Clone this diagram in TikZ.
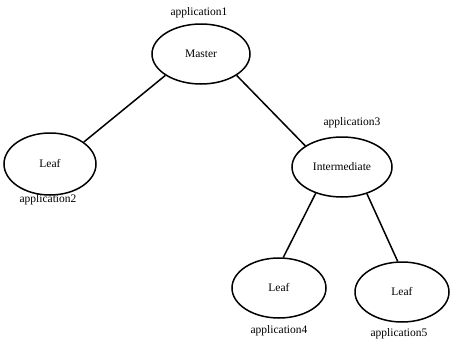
\documentclass[tikz,border=0pt]{standalone}
\usepackage{fontspec}
\setmainfont{Liberation Serif}
\usetikzlibrary{shapes.geometric}
\begin{document}
\begin{tikzpicture}[x=1pt,y=-1pt,
  app/.style={draw,ellipse,line width=1.5pt,inner sep=0pt,font=\fontsize{11.5}{13}\selectfont},
  lbl/.style={inner sep=0pt,font=\fontsize{11.5}{13}\selectfont},
  conn/.style={line width=1.5pt}]
\useasboundingbox (0,0) rectangle (453,343);
\node[app,minimum width=98pt,minimum height=60pt] (master) at (201,54) {Master};
\node[app,minimum width=92pt,minimum height=62pt] (leafa) at (50,164) {Leaf};
\node[app,minimum width=100pt,minimum height=60pt] (inter) at (342,167) {Intermediate};
\node[app,minimum width=94pt,minimum height=60pt] (leafb) at (279,288) {Leaf};
\node[app,minimum width=94pt,minimum height=60pt] (leafc) at (402,292) {Leaf};
\node[lbl] (l1) at (199,13) {application1};
\node[lbl] (l2) at (48,200) {application2};
\node[lbl] (l3) at (352,123) {application3};
\node[lbl] (l4) at (279,331) {application4};
\node[lbl] (l5) at (399,334) {application5};
\draw[conn] (master.211) -- (leafa.33);
\draw[conn] (master.329) -- (inter.150);
\draw[conn] (inter.225) -- (leafb.82);
\draw[conn] (inter.313) -- (leafc.98);
\end{tikzpicture}
\end{document}
